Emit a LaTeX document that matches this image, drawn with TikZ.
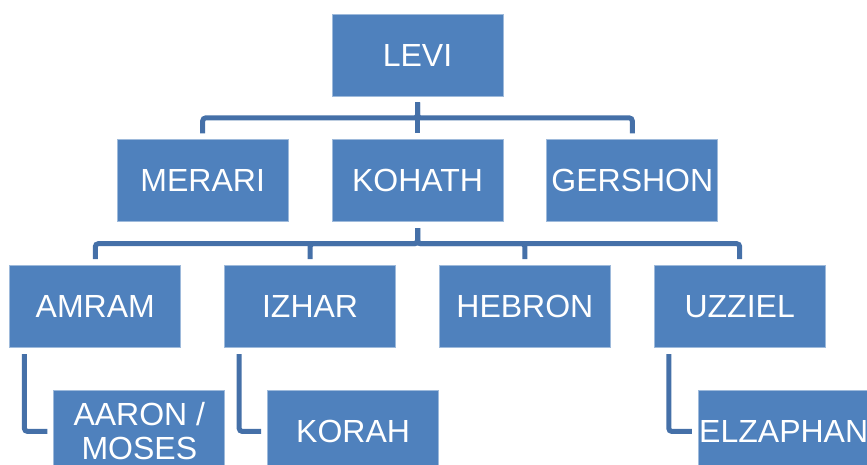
\documentclass[tikz,border=0pt]{standalone}
\usepackage{fontspec}
\setmainfont{Liberation Sans}
\usetikzlibrary{positioning}
\definecolor{boxblue}{HTML}{4F81BD}
\definecolor{linkblue}{HTML}{4570A8}

\begin{document}
\begin{tikzpicture}[x=1pt, y=1pt, node distance=43pt,
  person/.style={draw=boxblue!55!white, line width=0.8pt, fill=boxblue, text=white, minimum width=171pt, minimum height=82pt, inner sep=0.5pt, align=center, font=\fontsize{32}{34}\selectfont},
  link/.style={draw=linkblue, line width=5pt, rounded corners=3pt, shorten <=6pt, shorten >=6pt}]
\useasboundingbox (0,0) rectangle (867,-464);
\clip (0,0) rectangle (867,-464);
% top and second generation
\node[person] (levi) at (417.5,-55) {LEVI};
\node[person, below=of levi] (kohath) {KOHATH};
\node[person, left=of kohath] (merari) {MERARI};
\node[person, right=of kohath] (gershon) {GERSHON};
% sons of Kohath
\node[person, below left=43pt and 21.5pt of kohath.south] (izhar) {IZHAR};
\node[person, left=of izhar] (amram) {AMRAM};
\node[person, right=of izhar] (hebron) {HEBRON};
\node[person, right=of hebron] (uzziel) {UZZIEL};
% grandsons
\node[person, below right=42pt and 44pt of amram.south west] (aaron) {AARON /\\MOSES};
\node[person, below right=42pt and 43pt of izhar.south west] (korah) {KORAH};
\node[person, below right=42pt and 44pt of uzziel.south west] (elzaphan) {ELZAPHAN};
% connectors
\draw[link] (levi.south) -- ++(0,-21.5) -| (merari.north);
\draw[link] (levi.south) -- ++(0,-21.5) -| (gershon.north);
\draw[link] (levi.south) -- (kohath.north);
\foreach \child in {amram, izhar, hebron, uzziel}
  \draw[link] (kohath.south) -- ++(0,-21.5) -| (\child.north);
\draw[link] ([xshift=15pt]amram.south west) |- (aaron.west);
\draw[link] ([xshift=15pt]izhar.south west) |- (korah.west);
\draw[link] ([xshift=15pt]uzziel.south west) |- (elzaphan.west);
\end{tikzpicture}
\end{document}
